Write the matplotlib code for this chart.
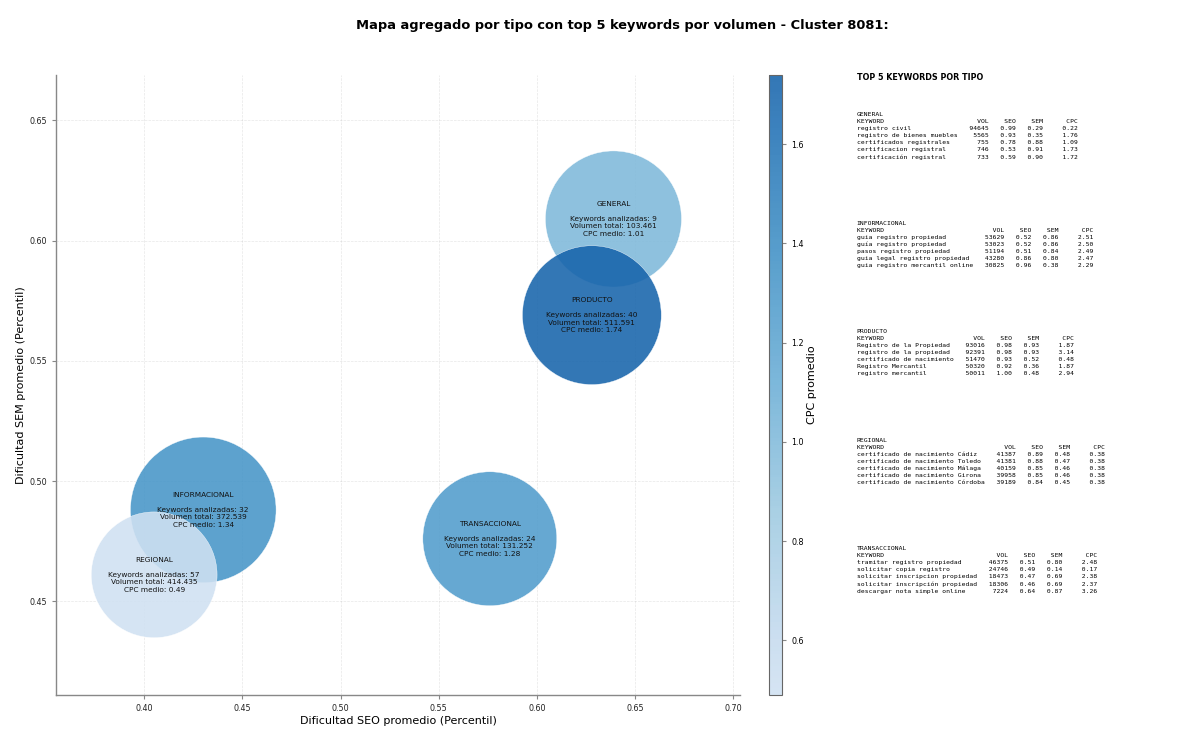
import numpy as np
import matplotlib
matplotlib.use('Agg')
import matplotlib.pyplot as plt
from matplotlib.colors import LinearSegmentedColormap, Normalize

# datos agregados por tipo
tipos = ['GENERAL', 'INFORMACIONAL', 'PRODUCTO', 'REGIONAL', 'TRANSACCIONAL']
seo_medio = [0.639, 0.430, 0.628, 0.405, 0.576]
sem_medio = [0.609, 0.488, 0.569, 0.461, 0.476]
n_keywords = [9, 32, 40, 57, 24]
volumen = [103461, 372539, 511591, 414435, 131252]
cpc_medio = [1.01, 1.34, 1.74, 0.49, 1.28]
tam_burbuja = [9600, 11000, 10000, 8200, 9300]

# top 5 keywords por tipo: (keyword, vol, seo, sem, cpc)
top_general = [
    ('registro civil', 94645, 0.99, 0.29, 0.22),
    ('registro de bienes muebles', 5565, 0.93, 0.35, 1.76),
    ('certificados registrales', 755, 0.78, 0.88, 1.09),
    ('certificacion registral', 746, 0.53, 0.91, 1.73),
    ('certificación registral', 733, 0.59, 0.90, 1.72),
]
top_informacional = [
    ('guia registro propiedad', 53629, 0.52, 0.86, 2.51),
    ('guía registro propiedad', 53023, 0.52, 0.86, 2.50),
    ('pasos registro propiedad', 51194, 0.51, 0.84, 2.49),
    ('guia legal registro propiedad', 43280, 0.86, 0.80, 2.47),
    ('guia registro mercantil online', 30825, 0.96, 0.38, 2.29),
]
top_producto = [
    ('Registro de la Propiedad', 93016, 0.98, 0.93, 1.87),
    ('registro de la propiedad', 92391, 0.98, 0.93, 3.14),
    ('certificado de nacimiento', 51470, 0.93, 0.52, 0.48),
    ('Registro Mercantil', 50320, 0.92, 0.36, 1.87),
    ('registro mercantil', 50011, 1.00, 0.48, 2.94),
]
top_regional = [
    ('certificado de nacimiento Cádiz', 41387, 0.89, 0.48, 0.38),
    ('certificado de nacimiento Toledo', 41381, 0.88, 0.47, 0.38),
    ('certificado de nacimiento Málaga', 40159, 0.85, 0.46, 0.38),
    ('certificado de nacimiento Girona', 39958, 0.85, 0.46, 0.38),
    ('certificado de nacimiento Córdoba', 39189, 0.84, 0.45, 0.38),
]
top_transaccional = [
    ('tramitar registro propiedad', 46375, 0.51, 0.80, 2.48),
    ('solicitar copia registro', 24746, 0.49, 0.14, 0.17),
    ('solicitar inscripcion propiedad', 18473, 0.47, 0.69, 2.38),
    ('solicitar inscripción propiedad', 18306, 0.46, 0.69, 2.37),
    ('descargar nota simple online', 7224, 0.64, 0.87, 3.26),
]
tops = [top_general, top_informacional, top_producto, top_regional, top_transaccional]

# mapa de color: Blues recortado
cmap = LinearSegmentedColormap.from_list('blues_cut', plt.cm.Blues(np.linspace(0.2, 0.8, 256)))
norm = Normalize(vmin=min(cpc_medio), vmax=max(cpc_medio))

fig = plt.figure(figsize=(12, 7.42), dpi=100)
ax = fig.add_axes([0.0467, 0.0633, 0.57, 0.836])
cax = fig.add_axes([0.641, 0.0633, 0.011, 0.836])

sc = ax.scatter(seo_medio, sem_medio, s=tam_burbuja, c=cpc_medio, cmap=cmap, norm=norm,
                alpha=0.88, edgecolors='white', linewidths=0.3, zorder=3)

for t, x, y, n, v, c in zip(tipos, seo_medio, sem_medio, n_keywords, volumen, cpc_medio):
    vol_txt = f"{v:,}".replace(',', '.')
    ax.text(x, y, f"{t}\n\nKeywords analizadas: {n}\nVolumen total: {vol_txt}\nCPC medio: {c:.2f}",
            ha='center', va='center', fontsize=5.3, color='#111111', linespacing=1.3, zorder=4)

ax.set_xlim(0.355, 0.7035)
ax.set_ylim(0.411, 0.669)
ax.set_xlabel('Dificultad SEO promedio (Percentil)', fontsize=8, labelpad=2)
ax.set_ylabel('Dificultad SEM promedio (Percentil)', fontsize=8, labelpad=2)
ax.tick_params(labelsize=5.8, colors='#222222')
ax.tick_params(axis='both', color='#888888', length=3)
ax.grid(True, linestyle='--', linewidth=0.5, alpha=0.3, zorder=0)
for lado in ['top', 'right']:
    ax.spines[lado].set_visible(False)
for lado in ['left', 'bottom']:
    ax.spines[lado].set_color('#888888')
    ax.spines[lado].set_linewidth(1.0)

cb = fig.colorbar(sc, cax=cax)
cb.set_label('CPC promedio', fontsize=8, labelpad=2)
cb.ax.tick_params(labelsize=5.8, color='#888888', length=3)
cb.outline.set_edgecolor('#666666')
cb.outline.set_linewidth(0.8)

fig.suptitle('Mapa agregado por tipo con top 5 keywords por volumen - Cluster 8081:',
             fontsize=9.4, fontweight='bold', x=0.519, y=0.975)

# panel de texto con top 5 keywords
fig.text(0.714, 0.895, 'TOP 5 KEYWORDS POR TIPO', fontsize=5.8, fontweight='bold', va='center')
y0 = 0.849
paso = 0.1463
for i, (t, filas) in enumerate(zip(tipos, tops)):
    w = max(len(f[0]) for f in filas)
    lineas = [t, f"{'KEYWORD':<{w}}  {'VOL':>6} {'SEO':>6} {'SEM':>6} {'CPC':>8}"]
    for kw, v, s1, s2, c in filas:
        lineas.append(f"{kw:<{w}}  {v:>6} {s1:>6.2f} {s2:>6.2f} {c:>8.2f}")
    fig.text(0.714, y0 - i * paso, '\n'.join(lineas), family='DejaVu Sans Mono',
             fontsize=4.6, va='top', linespacing=1.5)

fig.savefig('out.png', dpi=100)
